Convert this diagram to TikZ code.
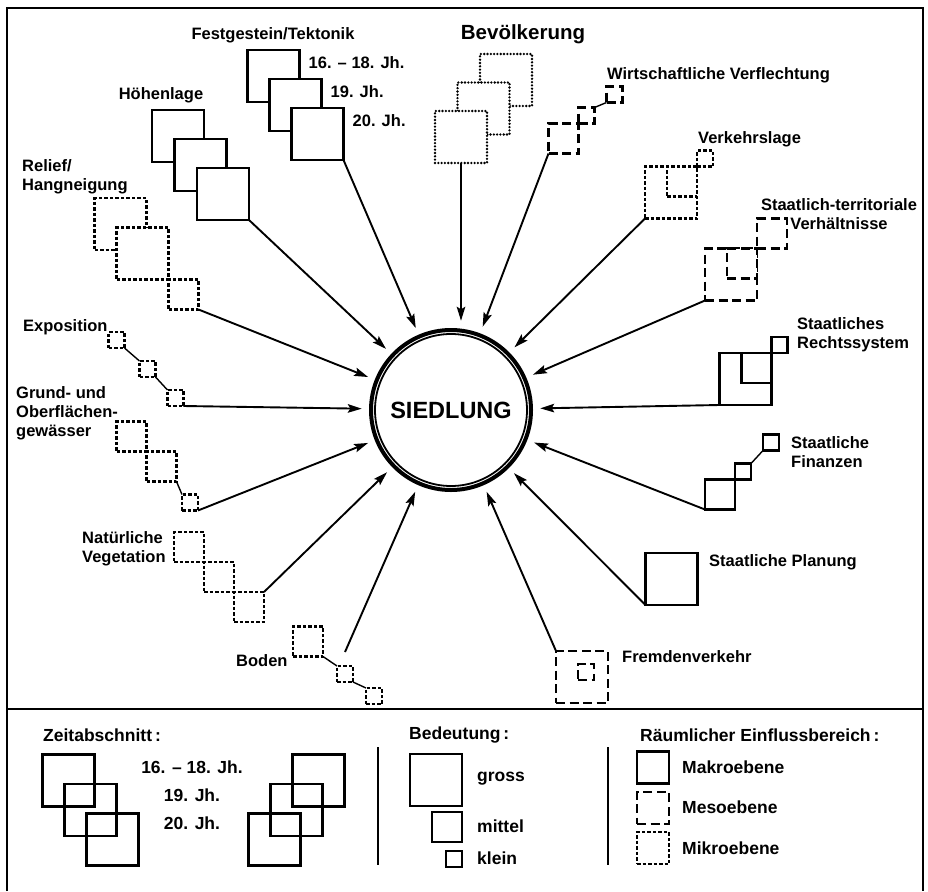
\documentclass[tikz,border=0pt]{standalone}
\usepackage{fontspec}
\setmainfont{Liberation Sans}
\usepackage{tikz}
\usetikzlibrary{arrows.meta, positioning}
\tikzset{
  makro/.style={rectangle,draw,line width=2.5pt,fill=white,inner sep=0pt,outer sep=0pt},
  meso/.style={makro,dash pattern=on 9pt off 4.5pt},
  mikro/.style={makro,line width=2.3pt,dash pattern=on 3.5pt off 2pt},
  punkt/.style={makro,line width=2.6pt,dash pattern=on 0pt off 3.3pt,line cap=round},
  gross/.style={minimum size=52pt},
  mittel/.style={minimum size=30pt},
  klein/.style={minimum size=16pt},
  lbl/.style={inner sep=0pt,align=left,font=\fontsize{16.5}{19}\selectfont\bfseries},
  leg/.style={inner sep=0pt,font=\fontsize{17.5}{20}\selectfont\bfseries},
  arr/.style={-{Stealth[length=14pt,width=8.5pt,inset=2.5pt]},line width=1.9pt,shorten >=7pt},
  verb/.style={line width=1.4pt}
}

\begin{document}
\begin{tikzpicture}[x=1pt,y=-1pt,
  legbox/.style={draw,line width=2.6pt,inner sep=0pt,outer sep=0pt}]
  \useasboundingbox (0,0) rectangle (928,891);

  % Rahmen
  \draw[line width=2.2pt] (7,891) -- (7,8) -- (923,8) -- (923,891);
  \draw[line width=2.2pt] (7,709) -- (923,709);

  % Mitte
  \node[circle,minimum size=164pt,inner sep=0pt,
    font=\fontsize{23.5}{25}\selectfont\bfseries] (sied) at (451,410) {SIEDLUNG};
  \draw[line width=4pt] (sied.center) circle[radius=80pt];
  \draw[line width=1.8pt] (sied.center) circle[radius=76pt];

  % Festgestein/Tektonik
  \node[makro,gross] (fg1) at (273.5,76) {};
  \node[makro,gross] (fg2) at ([shift={(22,29)}]fg1.center) {};
  \node[makro,gross] (fg3) at ([shift={(22,29)}]fg2.center) {};
  \node[lbl] (fgl) at (273,35) {Festgestein/Tektonik};
  \node[lbl,anchor=west] (fgz1) at ([shift={(9,13)}]fg1.north east) {16. – 18. Jh.};
  \node[lbl,anchor=west] (fgz2) at ([shift={(9,13)}]fg2.north east) {19. Jh.};
  \node[lbl,anchor=west] (fgz3) at ([shift={(9,13)}]fg3.north east) {20. Jh.};

  % Hoehenlage
  \node[makro,gross] (hl1) at (178,136) {};
  \node[makro,gross] (hl2) at ([shift={(22.5,29)}]hl1.center) {};
  \node[makro,gross] (hl3) at ([shift={(22.5,29)}]hl2.center) {};
  \node[lbl] (hll) at (161,95) {Höhenlage};

  % Relief
  \node[mikro,gross] (rf1) at (120.5,224) {};
  \node[mikro,gross] (rf2) at ([shift={(22,29.5)}]rf1.center) {};
  \node[mikro,mittel,below right=0pt of rf2] (rf3) {};
  \node[lbl,anchor=west] (rfl) at (22,177) {Relief/\\Hangneigung};

  % Exposition
  \node[mikro,klein] (ex1) at (116.5,340) {};
  \node[mikro,klein] (ex2) at (147.5,369) {};
  \node[mikro,klein] (ex3) at (175.5,398) {};
  \draw[verb] (ex1.south east) -- (ex2.north west);
  \draw[verb] (ex2.south east) -- (ex3.north west);
  \node[lbl,anchor=west] (exl) at (23,327) {Exposition};

  % Gewaesser
  \node[mikro,mittel] (gw1) at (131.5,436.5) {};
  \node[mikro,mittel,below right=0pt of gw1] (gw2) {};
  \node[mikro,klein] (gw3) at (190,502.5) {};
  \draw[verb] (gw2.south east) -- (gw3.north west);
  \node[lbl,anchor=west] (gwl) at (16,413) {Grund- und\\Oberflächen-\\gewässer};

  % Vegetation
  \node[mikro,mittel] (nv1) at (189,547) {};
  \node[mikro,mittel,below right=0pt of nv1] (nv2) {};
  \node[mikro,mittel,below right=0pt of nv2] (nv3) {};
  \node[lbl,anchor=west] (nvl) at (82,548.5) {Natürliche\\Vegetation};

  % Boden
  \node[mikro,mittel] (bo1) at (308,641.5) {};
  \node[mikro,klein] (bo2) at (345,674) {};
  \node[mikro,klein] (bo3) at (374,696) {};
  \draw[verb] (bo1.south east) -- (bo2.north west);
  \draw[verb] (bo2.south east) -- (bo3.north west);
  \coordinate (bo0) at ([yshift=14pt]bo2.north);
  \node[lbl,anchor=west] (bol) at (236,661) {Boden};

  % Bevoelkerung
  \node[punkt,gross] (bv3) at (506,80) {};
  \node[punkt,gross] (bv2) at ([shift={(-22.5,28.5)}]bv3.center) {};
  \node[punkt,gross] (bv1) at ([shift={(-22.5,28.5)}]bv2.center) {};
  \node[lbl,font=\fontsize{20.5}{22}\selectfont\bfseries] (bvl) at (523,34) {Bevölkerung};

  % Wirtschaftliche Verflechtung
  \node[meso,mittel] (wv1) at (563.5,138.5) {};
  \node[meso,klein,above right=0pt of wv1] (wv2) {};
  \node[meso,klein] (wv3) at (614.5,94.5) {};
  \draw[verb] (wv2.north east) -- (wv3.south west);
  \node[lbl,anchor=west] (wvl) at (607,75) {Wirtschaftliche Verflechtung};

  % Verkehrslage
  \node[mikro,gross] (vl1) at (671,192.5) {};
  \node[mikro,mittel,anchor=north east] (vl2) at (vl1.north east) {};
  \node[mikro,klein,above right=0pt of vl1] (vl3) {};
  \node[lbl,anchor=west] (vll) at (698,139) {Verkehrslage};

  % Staatlich-territoriale Verhaeltnisse
  \node[meso,gross] (st1) at (731,274.5) {};
  \node[meso,mittel,anchor=north east] (st2) at (st1.north east) {};
  \node[meso,mittel,above right=0pt of st1] (st3) {};
  \node[lbl,align=center] (stl) at (839,214) {Staatlich-territoriale\\Verhältnisse};

  % Staatliches Rechtssystem
  \node[makro,gross] (rs1) at (745.5,379) {};
  \node[makro,mittel,anchor=north east] (rs2) at (rs1.north east) {};
  \node[makro,klein,above right=0pt of rs1] (rs3) {};
  \node[lbl,anchor=west] (rsl) at (797,335) {Staatliches\\Rechtssystem};

  % Staatliche Finanzen
  \node[makro,mittel] (sf1) at (720,494.5) {};
  \node[makro,klein,above right=0pt of sf1] (sf2) {};
  \node[makro,klein] (sf3) at (771,442.5) {};
  \draw[verb] (sf2.north east) -- (sf3.south west);
  \node[lbl,anchor=west] (sfl) at (791,452.5) {Staatliche\\Finanzen};

  % Staatliche Planung
  \node[makro,gross] (sp1) at (671.5,579) {};
  \node[lbl,anchor=west] (spl) at (709,562) {Staatliche Planung};

  % Fremdenverkehr
  \node[meso,gross] (fv1) at (582,677) {};
  \node[meso,klein] (fv2) at ([shift={(4,-5)}]fv1.center) {};
  \node[lbl,anchor=west] (fvl) at (622,657) {Fremdenverkehr};

  % Pfeile
  \draw[arr] (fg3.south east) -- (sied);
  \draw[arr] (hl3.south east) -- (sied);
  \draw[arr] (rf3.south east) -- (sied);
  \draw[arr] (ex3.south east) -- (sied);
  \draw[arr] (gw3.south east) -- (sied);
  \draw[arr] (nv3.north east) -- (sied);
  \draw[arr] (bo0) -- (sied);
  \draw[arr] (bv1.south) -- (bv1.south |- sied.north);
  \draw[arr] (wv1.south west) -- (sied);
  \draw[arr] (vl1.south west) -- (sied);
  \draw[arr] (st1.south west) -- (sied);
  \draw[arr] (rs1.south west) -- (sied);
  \draw[arr] (sf1.south west) -- (sied);
  \draw[arr] (sp1.south west) -- (sied);
  \draw[arr] (fv1.north west) -- (sied);

  % Legende: Zeitabschnitt
  \node[leg,anchor=west] (zeit) at (43,735) {Zeitabschnitt\,:};
  \node[legbox,gross] (za1) at (68.5,780.5) {};
  \node[legbox,gross] (za2) at ([shift={(22,29.5)}]za1.center) {};
  \node[legbox,gross] (za3) at ([shift={(22,29.5)}]za2.center) {};
  \node[legbox,gross] (zb1) at (318.5,780.5) {};
  \node[legbox,gross] (zb2) at ([shift={(-22,29.5)}]zb1.center) {};
  \node[legbox,gross] (zb3) at ([shift={(-22,29.5)}]zb2.center) {};
  \node[leg] (zt1) at (192,767) {16. – 18. Jh.};
  \node[leg] (zt2) at (192,795) {19. Jh.};
  \node[leg] (zt3) at (192,823) {20. Jh.};
  \draw[line width=2.2pt] (378,747) -- (378,865);

  % Legende: Bedeutung
  \node[leg,anchor=west] (bed) at (409,735) {Bedeutung\,:};
  \node[legbox,gross] (bd1) at (436,780) {};
  \node[legbox,mittel,below=6pt of bd1.south east,anchor=north east] (bd2) {};
  \node[legbox,klein,below=9pt of bd2.south east,anchor=north east] (bd3) {};
  \node[leg,anchor=west] (bdt1) at (477,779) {gross};
  \node[leg,anchor=west] (bdt2) at (477,826) {mittel};
  \node[leg,anchor=west] (bdt3) at (477,858) {klein};
  \draw[line width=2.2pt] (608,747) -- (608,865);

  % Legende: Raeumlicher Einflussbereich
  \node[leg,anchor=west] (rae) at (640,735) {Räumlicher Einflussbereich\,:};
  \node[legbox,minimum size=32pt] (rb1) at (653,767.5) {};
  \node[legbox,minimum size=32pt,dash pattern=on 9pt off 4.5pt] (rb2) at (653,808) {};
  \node[legbox,minimum size=32pt,line width=2.3pt,dash pattern=on 3.5pt off 2pt] (rb3) at (653,848) {};
  \node[leg,anchor=west] (rbt1) at (682,767) {Makroebene};
  \node[leg,anchor=west] (rbt2) at (682,807) {Mesoebene};
  \node[leg,anchor=west] (rbt3) at (682,848) {Mikroebene};

\end{tikzpicture}
\end{document}
